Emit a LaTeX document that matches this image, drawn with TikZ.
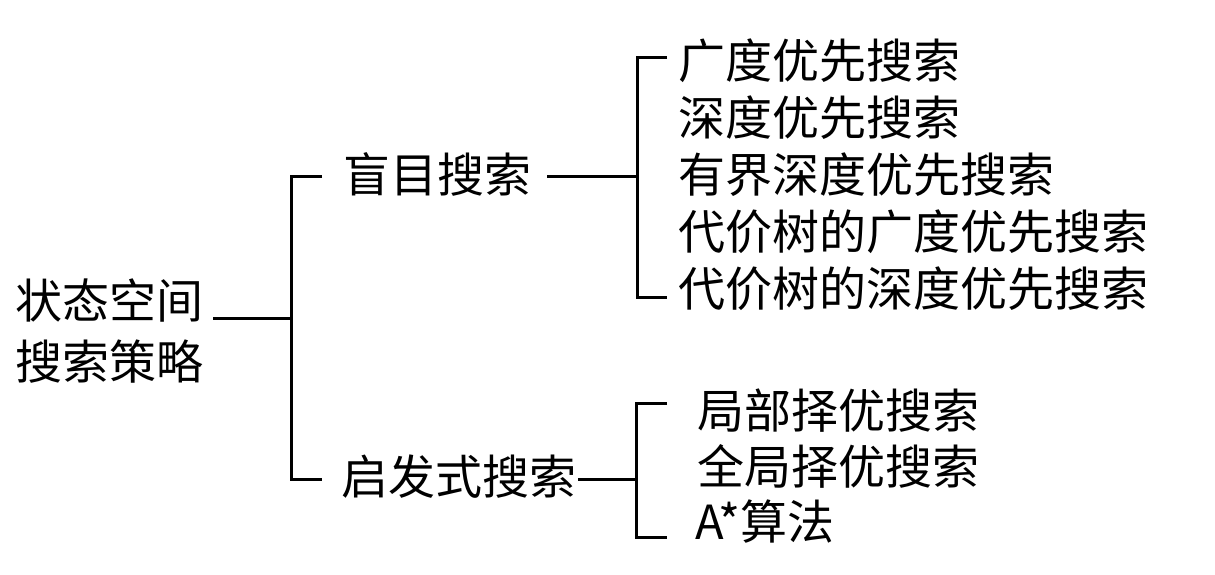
\documentclass[tikz,border=0pt]{standalone}
\usepackage{fontspec}
\setmainfont{Noto Sans CJK SC}
\begin{document}
\begin{tikzpicture}[x=1pt,y=-1pt,
  label/.style={anchor=west,inner sep=0pt,outer sep=0pt,font=\fontsize{47}{61}\selectfont},
  wire/.style={line width=3pt,line join=miter,line cap=butt}]
\useasboundingbox[fill=white] (0,0) rectangle (1215,574);

% root
\node[label,align=left] (root) at (15,331) {状态空间\\搜索策略};

% second level
\node[label] (blind) at (343,174) {盲目搜索};
\node[label] (heur)  at (341,477) {启发式搜索};

% blind search methods
\node[label] (u1) at (678,61)  {广度优先搜索};
\node[label] (u2) at (678,118) {深度优先搜索};
\node[label] (u3) at (678,175) {有界深度优先搜索};
\node[label] (u4) at (678,232) {代价树的广度优先搜索};
\node[label] (u5) at (678,289) {代价树的深度优先搜索};

% heuristic search methods
\node[label] (h1) at (697,411) {局部择优搜索};
\node[label] (h2) at (697,466) {全局择优搜索};
\node[label] (h3) at (695,522) {A*算法};

% junctions and bracket ends
\coordinate (j1) at (291,318);
\coordinate (j2) at (637,176);
\coordinate (j3) at (636,479);
\coordinate (b1top) at (322,176);
\coordinate (b1bot) at (322,479);
\coordinate (b2top) at (667,57);
\coordinate (b2bot) at (667,297);
\coordinate (b3top) at (667,403);
\coordinate (b3bot) at (667,537);

% connectors
\draw[wire] ([xshift=10pt]root.east |- j1) -- (j1);
\draw[wire] (b1top) -| (j1) |- (b1bot);
\draw[wire] ([xshift=16pt]blind.east |- j2) -- (j2);
\draw[wire] (b2top) -| (j2) |- (b2bot);
\draw[wire] ([xshift=2pt]heur.east |- j3) -- (j3);
\draw[wire] (b3top) -| (j3) |- (b3bot);
\end{tikzpicture}
\end{document}
